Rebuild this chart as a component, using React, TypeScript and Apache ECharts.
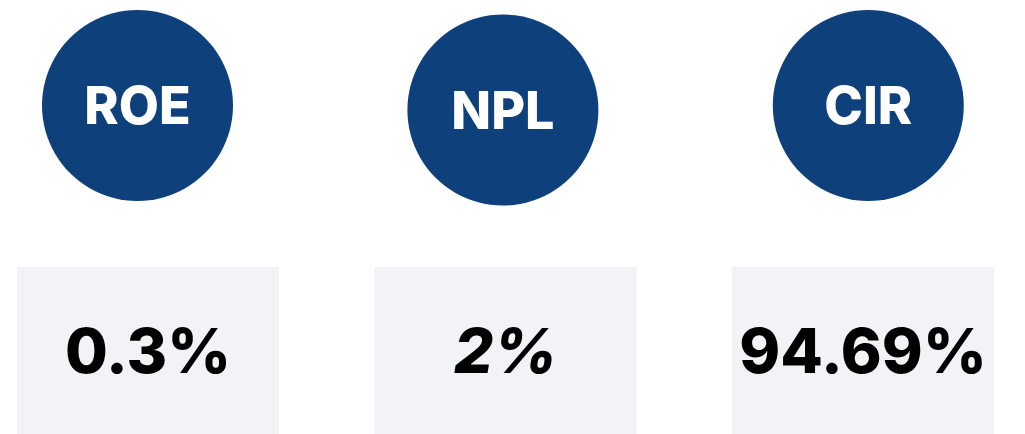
import React, { useEffect, useRef } from "react";
import * as echarts from "echarts";

const categories = ["ROE", "NPL", "CIR"];
const valueLabels = ["0.3%", "2%", "94.69%"];
const italicValue = [false, true, false];
const circleOffsetY = [0, 4.5, 0];

const CIRCLE = "#0E417B";
const BOX = "#F2F3F7";
const FONT = "Inter, 'Open Sans', sans-serif";

export default function App() {
  const ref = useRef<HTMLDivElement>(null);
  useEffect(() => {
    if (!ref.current) return;
    const chart = echarts.init(ref.current, null, { renderer: "svg" });
    chart.setOption({
      animation: false,
      backgroundColor: "#ffffff",
      grid: [
        { left: 137.5, right: 156.7, top: 0, height: 211 },
        { left: 148, right: 162, top: 267, bottom: 0 },
      ],
      xAxis: [
        { type: "category", gridIndex: 0, data: categories, boundaryGap: false, show: false },
        { type: "category", gridIndex: 1, data: categories, boundaryGap: false, show: false },
      ],
      yAxis: [
        { type: "category", gridIndex: 0, data: ["kpi"], boundaryGap: true, show: false },
        { type: "value", gridIndex: 1, min: 0, max: 1, show: false },
      ],
      series: [
        {
          type: "scatter",
          xAxisIndex: 0,
          yAxisIndex: 0,
          symbol: "circle",
          symbolSize: 191,
          itemStyle: { color: CIRCLE, opacity: 1 },
          emphasis: { disabled: true },
          data: categories.map((c, i) => ({
            value: [c, "kpi"],
            symbolOffset: [0, circleOffsetY[i]],
          })),
          label: {
            show: true,
            position: "inside",
            formatter: (p: any) => categories[p.dataIndex],
            color: "#ffffff",
            fontFamily: FONT,
            fontWeight: 800,
            fontSize: 52,
          },
        },
        {
          type: "bar",
          xAxisIndex: 1,
          yAxisIndex: 1,
          barWidth: 262,
          clip: false,
          itemStyle: { color: BOX },
          emphasis: { disabled: true },
          data: categories.map((c, i) => ({
            value: 1,
            label: { fontStyle: italicValue[i] ? "italic" : "normal" },
          })),
          label: {
            show: true,
            position: "inside",
            formatter: (p: any) => valueLabels[p.dataIndex],
            color: "#000000",
            fontFamily: FONT,
            fontWeight: 800,
            fontSize: 62,
          },
        },
      ],
    });
    return () => chart.dispose();
  }, []);
  return (
    <div
      ref={ref}
      style={{ position: "absolute", left: 0, top: 0, width: 1025, height: 434 }}
    />
  );
}
